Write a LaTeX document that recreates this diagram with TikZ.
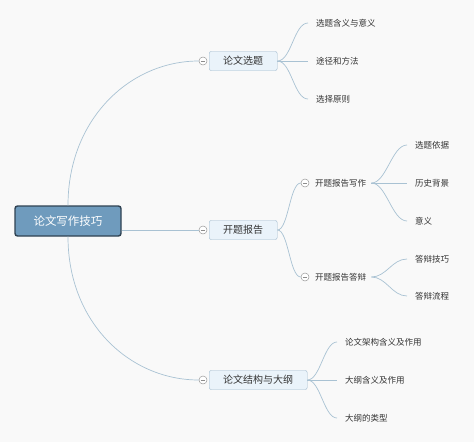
\documentclass[tikz,border=0pt]{standalone}
\usepackage{fontspec}
\setmainfont{Noto Sans CJK SC}
\definecolor{bgc}{HTML}{F9F9F9}
\definecolor{rootfill}{HTML}{6F9BBD}
\definecolor{rootborder}{HTML}{2F4252}
\definecolor{topicfill}{HTML}{EAF3FA}
\definecolor{topicborder}{HTML}{9BB7CC}
\definecolor{edgec}{HTML}{A9C2D3}
\definecolor{textc}{HTML}{333333}
\begin{document}
\begin{tikzpicture}[x=1pt,y=-1pt,
  rootnode/.style={draw=rootborder, line width=1.4pt, fill=rootfill, rounded corners=2.5pt, text=white,
    font=\fontsize{11.5}{13}\selectfont, minimum width=106pt, minimum height=30pt, inner sep=0pt},
  topic/.style={draw=topicborder, fill=topicfill, rounded corners=2pt, text=textc,
    font=\fontsize{10}{12}\selectfont, minimum height=19pt, inner xsep=14pt, inner ysep=0pt, anchor=west},
  collapse/.style={circle, draw=gray!80, fill=white, minimum size=8pt, inner sep=0pt, line width=0.5pt,
    path picture={\draw[gray!90, line width=0.5pt] ([xshift=-2.2pt]path picture bounding box.center) -- ([xshift=2.2pt]path picture bounding box.center);}},
  leaf/.style={font=\fontsize{8.5}{10}\selectfont, text=textc, inner xsep=8pt, inner ysep=1pt, anchor=west},
  sub/.style={font=\fontsize{8.5}{10}\selectfont, text=textc, inner xsep=5pt, inner ysep=1pt, anchor=west},
  edge/.style={draw=edgec, line width=0.7pt}
]
\fill[bgc] (0,0) rectangle (474,442);
\useasboundingbox (0,0) rectangle (474,442);

% root
\node[rootnode] (root) at (68,221) {论文写作技巧};

% topics
\node[collapse] (c1) at (203,61) {};
\node[topic] (t1) at (209,61) {论文选题};
\node[collapse] (c2) at (203,230) {};
\node[topic] (t2) at (209,230) {开题报告};
\node[collapse] (c3) at (203,380) {};
\node[topic] (t3) at (209,380) {论文结构与大纲};

% leaves of t1
\node[leaf] (l11) at (308,23) {选题含义与意义};
\node[leaf] (l12) at (308,61) {途径和方法};
\node[leaf] (l13) at (308,99) {选择原则};

% subtopics of t2
\node[collapse] (cs1) at (305,183) {};
\node[sub] (s1) at (310,183) {开题报告写作};
\node[collapse] (cs2) at (305,277) {};
\node[sub] (s2) at (310,277) {开题报告答辩};

\node[leaf] (g11) at (407,145) {选题依据};
\node[leaf] (g12) at (407,183) {历史背景};
\node[leaf] (g13) at (407,221) {意义};
\node[leaf] (g21) at (407,259) {答辩技巧};
\node[leaf] (g22) at (407,296) {答辩流程};

% leaves of t3
\node[leaf] (l31) at (337,342) {论文架构含义及作用};
\node[leaf] (l32) at (337,380) {大纲含义及作用};
\node[leaf] (l33) at (337,418) {大纲的类型};

% root edges
\draw[edge] (root.north) .. controls +(0,-86) and +(-69,0) .. (c1.west);
\draw[edge] (root.east |- c2.west) -- (c2.west);
\draw[edge] (root.south) .. controls +(0,86) and +(-69,0) .. (c3.west);

% t1 edges
\draw[edge] (t1.east) .. controls +(14,0) and +(-14,0) .. (l11.west);
\draw[edge] (t1.east) -- (l12.west);
\draw[edge] (t1.east) .. controls +(14,0) and +(-14,0) .. (l13.west);

% t2 edges
\draw[edge] (t2.east) .. controls +(11,0) and +(-11,0) .. (cs1.west);
\draw[edge] (t2.east) .. controls +(11,0) and +(-11,0) .. (cs2.west);

\draw[edge] (s1.east) .. controls +(15,0) and +(-15,0) .. (g11.west);
\draw[edge] (s1.east) -- (g12.west);
\draw[edge] (s1.east) .. controls +(15,0) and +(-15,0) .. (g13.west);
\draw[edge] (s2.east) .. controls +(15,0) and +(-15,0) .. (g21.west);
\draw[edge] (s2.east) .. controls +(15,0) and +(-15,0) .. (g22.west);

% t3 edges
\draw[edge] (t3.east) .. controls +(13,0) and +(-13,0) .. (l31.west);
\draw[edge] (t3.east) -- (l32.west);
\draw[edge] (t3.east) .. controls +(13,0) and +(-13,0) .. (l33.west);
\end{tikzpicture}
\end{document}
